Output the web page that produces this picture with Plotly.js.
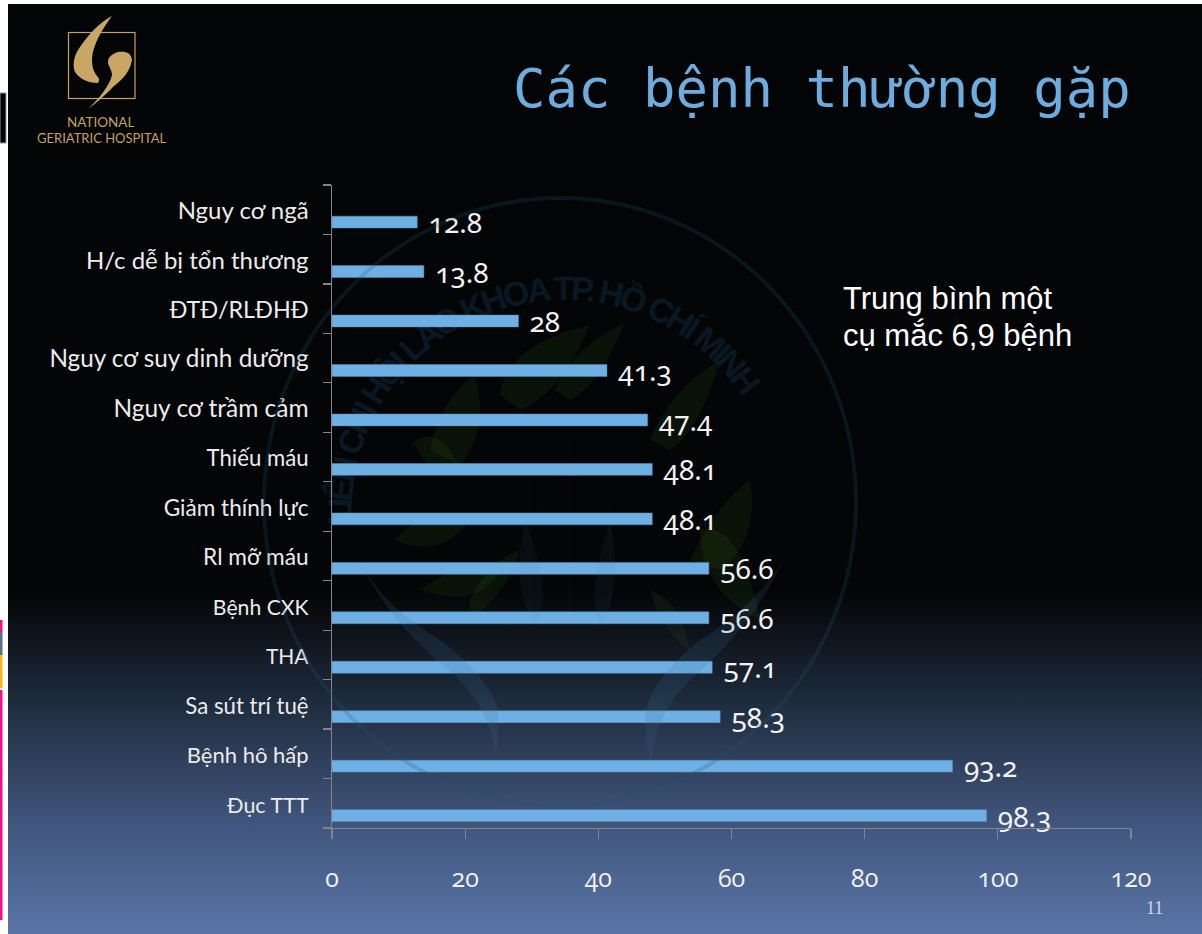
<!DOCTYPE html>
<html><head><meta charset="utf-8">
<script src="https://cdn.plot.ly/plotly-3.0.1.min.js"></script>
<style>
html,body{margin:0;padding:0;width:1202px;height:934px;overflow:hidden;background:#fff}
#bg{position:absolute;left:8px;top:4px;width:1194px;height:930px;background:linear-gradient(180deg,#020405 0%,#030506 63%,#0f141c 68%,#1b2838 74%,#2f3f5a 81%,#425880 89%,#5a74a6 100%)}
#deco,#mark{position:absolute;left:0;top:0;pointer-events:none}
#chart{position:absolute;left:0;top:0;width:1202px;height:934px}
#chart text{font-feature-settings:"onum" 1;font-variant-numeric:oldstyle-nums;}
</style></head><body>
<div id="bg"></div>
<svg id="deco" width="1202" height="934" viewBox="0 0 1202 934">
  <rect x="0" y="93" width="6" height="50" fill="#000" stroke="#999" stroke-width="1"/>
  <rect x="0" y="620" width="2.5" height="12" fill="#ee1188"/>
  <rect x="0" y="632" width="2.5" height="23" fill="#5b6f8a"/>
  <rect x="0" y="655" width="2.5" height="33" fill="#fdb515"/>
  <rect x="0" y="690" width="2.5" height="230" fill="#ee1188"/>
  <g>
    <rect x="68.500" y="32.500" width="66.500" height="66" fill="none" stroke="#c6a260" stroke-width="1.200"/>
    <path d="M 112 16 C 100 22 88 35 80 47 C 74 55 72 65 75 72 C 80 80 90 83 98 83 C 100 80 99 78 97 76 C 92 70 91 60 93 52 C 96 40 103 28 112 16 Z" fill="#c9a566"/>
    <path d="M 88 109 C 98 102 106 94 113 87 C 122 80 130 72 132 60 C 131 52 125 51 118 52 C 112 54 108 57 108 62 C 108 66 112 70 112 75 C 110 85 98 100 88 109 Z" fill="#c9a566"/>
  </g>
  <g fill="#2a4a14" fill-opacity=".2">
    <path d="M 500 395 Q 505 345 590 325 Q 560 395 520 410 Z"/>
    <path d="M 555 390 Q 570 350 625 322 Q 600 385 570 400 Z"/>
    <path d="M 430 450 Q 440 400 475 375 Q 490 430 460 465 Z"/>
    <path d="M 650 440 Q 670 390 720 360 Q 700 430 670 450 Z"/>
    <path d="M 410 445 Q 440 420 460 470 Q 430 480 415 445 Z"/>
    <path d="M 395 540 Q 430 500 470 520 Q 440 560 395 540 Z"/>
    <path d="M 690 560 Q 720 500 750 480 Q 760 540 720 570 Z"/>
    <path d="M 700 530 Q 740 520 760 620 Q 700 590 700 530 Z"/>
    <path d="M 420 590 Q 460 560 500 570 Q 480 610 420 590 Z"/>
    <path d="M 470 600 Q 490 560 520 550 Q 510 590 470 620 Z"/>
    <path d="M 650 590 Q 680 600 690 650 Q 660 630 650 590 Z"/>
  </g>
  <g fill="none" stroke="#3a1414" stroke-opacity=".14" stroke-width="2"><path d="M 530 640 V 480 M 570 650 V 440 M 610 640 V 500"/></g>
  <defs><path id="arc" d="M 352 525 A 212 212 0 0 1 776 500"/></defs>
  <text font-family="Liberation Sans" font-weight="700" font-size="34" letter-spacing="-3.600" fill="#1a4a6e" fill-opacity=".3"><textPath href="#arc">LIÊN CHI HỘI LÃO KHOA TP. HỒ CHÍ MINH</textPath></text>
</svg>
<div id="chart"></div>
<svg id="mark" width="1202" height="934" viewBox="0 0 1202 934">
  <ellipse cx="560" cy="502" rx="296" ry="304" fill="none" stroke="#1f5577" stroke-opacity=".22" stroke-width="4"/>
  <g fill="#3c7099" fill-opacity=".17">
    <path d="M 360 563 Q 385 605 425 630 Q 480 665 497 705 Q 500 730 496 755 Q 490 710 455 675 Q 395 630 360 563 Z"/>
    <path d="M 782 563 Q 750 610 700 640 Q 650 680 645 715 Q 645 740 651 762 Q 655 715 690 680 Q 750 630 782 563 Z"/>
    <path d="M 525 520 Q 510 590 535 625 Q 555 600 525 520 Z" fill-opacity=".08"/>
    <path d="M 610 520 Q 625 590 600 625 Q 585 600 610 520 Z" fill-opacity=".08"/>
  </g>
</svg>
<script>
const categories = ["Nguy cơ ngã","H/c dễ bị tổn thương","ĐTĐ/RLĐHĐ","Nguy cơ suy dinh dưỡng","Nguy cơ trầm cảm","Thiếu máu","Giảm thính lực","Rl mỡ máu","Bệnh CXK","THA","Sa sút trí tuệ","Bệnh hô hấp","Đục TTT"];
const values = [12.8,13.8,28,41.3,47.4,48.1,48.1,56.6,56.6,57.1,58.3,93.2,98.3];
const labelSizes = [24,24,23.3,24.3,24.5,22.2,22.6,22.7,21.2,21,22.2,22,21.5];
const xTicks = [0,20,40,60,80,100,120];
const titleText = "Các bệnh thường gặp";
const noteLines = ["Trung bình một","cụ mắc 6,9 bệnh"];

const trace = {type:"bar",orientation:"h",y:categories,x:values,
  width:0.24,offset:0.13,
  marker:{color:"#6fb0e4",line:{color:"#5a8fbb",width:0.5}},
  text:values.map(v=>"\u00a0"+v),textposition:"outside",cliponaxis:false,constraintext:"none",
  textfont:{family:"Noto Sans",size:28,color:"#f2f2f2"},hoverinfo:"skip"};
const layout = {
  width:1202,height:934,autosize:false,showlegend:false,
  margin:{l:332,r:71,t:185,b:106,pad:0},
  paper_bgcolor:"rgba(0,0,0,0)",plot_bgcolor:"rgba(0,0,0,0)",
  xaxis:{range:[0,120],tickvals:xTicks,ticks:"outside",ticklen:10,tickwidth:1.2,tickcolor:"#85858f",
    showline:true,linecolor:"#85858f",linewidth:1.2,showgrid:false,zeroline:false,
    ticklabelstandoff:18,tickfont:{family:"Open Sans",size:25,color:"#f2f2f2"}},
  yaxis:{type:"category",autorange:"reversed",tickson:"boundaries",ticks:"outside",ticklen:8,tickwidth:1.2,tickcolor:"#85858f",
    tickmode:"array",tickvals:categories,ticklabelshift:-2,
    ticktext:categories.map((c,i)=>`<span style="font-size:${labelSizes[i]}px">${c}</span>`),
    showline:true,linecolor:"#85858f",linewidth:1.2,showgrid:false,zeroline:false,
    ticklabelstandoff:18,tickfont:{family:"Lato",size:21,color:"#ececec"}},
  annotations:[
    {text:titleText,xref:"paper",yref:"paper",x:(1133-332)/799,xanchor:"right",y:(828-88)/643,yanchor:"middle",showarrow:false,
     font:{family:"DejaVu Sans Mono",size:54,color:"#6cacdf"}},
    {text:noteLines[0],xref:"paper",yref:"paper",x:(841-332)/799,xanchor:"left",y:(828-298)/643,yanchor:"middle",align:"left",showarrow:false,
     font:{family:"Liberation Sans",size:31,color:"#ffffff"}},
    {text:noteLines[1],xref:"paper",yref:"paper",x:(841-332)/799,xanchor:"left",y:(828-335)/643,yanchor:"middle",align:"left",showarrow:false,
     font:{family:"Liberation Sans",size:31,color:"#ffffff"}},
    {text:"NATIONAL",xref:"paper",yref:"paper",x:(101-332)/799,xanchor:"center",y:(828-122)/643,yanchor:"middle",showarrow:false,
     font:{family:"Lato",size:13.5,color:"#c6a260"}},
    {text:"GERIATRIC HOSPITAL",xref:"paper",yref:"paper",x:(102-332)/799,xanchor:"center",y:(828-138)/643,yanchor:"middle",showarrow:false,
     font:{family:"Lato",size:13,color:"#c6a260"}},
    {text:"11",xref:"paper",yref:"paper",x:(1154-332)/799,xanchor:"center",y:(828-908)/643,yanchor:"middle",showarrow:false,
     font:{family:"Liberation Serif",size:18,color:"#cfd9e8"}}
  ]
};
Plotly.newPlot("chart",[trace],layout,{displayModeBar:false,staticPlot:true});
</script>
</body></html>
